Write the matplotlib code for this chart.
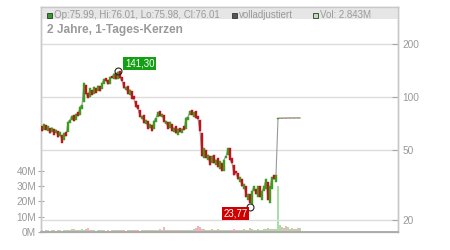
import matplotlib
matplotlib.use('Agg')
import matplotlib.pyplot as plt
from matplotlib.patches import Rectangle

plt.rcParams['font.family'] = ['Liberation Sans', 'DejaVu Sans']

# daily candles (thinned)
opens = [68, 65, 69, 64, 67, 63, 66, 62, 64, 60,
         61, 57, 63, 63, 71, 74, 79, 74, 82, 79,
         86, 94, 117, 106, 100, 110, 104, 113, 108, 115,
         111, 119, 129, 125, 119, 132, 127, 137, 127, 140,
         130, 122, 110, 115, 103, 108, 101, 95, 90, 84,
         75, 79, 70, 73, 67, 69, 66, 72, 77, 83,
         77, 79, 70, 72, 67, 70, 63, 68, 61, 67,
         62, 68, 66, 74, 79, 84, 77, 83, 78, 74,
         62, 45, 50, 44, 46, 42, 47, 41, 45, 39,
         42, 38, 45, 47, 51, 45, 41, 38, 37, 33,
         34, 30, 31, 26, 28, 24.5, 29, 30, 27, 31,
         26, 29, 30, 33, 25, 30, 36, 33,
         75.0, 75.5, 75.9, 75.6, 76.0, 75.7, 76.1, 75.8, 76.1, 75.9, 76.05, 75.99]
closes = [64, 70, 65, 68, 62, 67, 61, 65, 59, 63,
          55, 62, 60, 72, 74, 78, 73, 80, 78, 88,
          90, 120, 104, 99, 112, 103, 114, 106, 116, 108,
          120, 126, 124, 118, 130, 128, 136, 126, 139, 128,
          124, 112, 114, 104, 110, 98, 97, 88, 86, 77,
          78, 71, 74, 66, 70, 64, 73, 76, 82, 78,
          80, 72, 73, 66, 72, 64, 67, 62, 66, 63,
          66, 65, 76, 77, 83, 79, 82, 76, 75, 64,
          46, 51, 45, 47, 41, 46, 42, 44, 40, 43,
          38, 44, 46, 51, 44, 42, 36, 37, 34, 35,
          31, 32, 27, 28, 25, 29, 31, 28, 31, 27,
          29, 31, 34, 26, 31, 35, 34, 36,
          75.5, 75.8, 75.6, 75.9, 75.7, 76.0, 75.8, 76.1, 75.9, 76.0, 75.95, 76.01]
volumes = [1.2, 0.8, 1.0, 1.5, 0.9, 1.1, 1.3, 0.8, 1.0, 1.2,
           0.9, 1.4, 1.1, 1.6, 1.3, 1.8, 1.9, 1.2, 1.5, 1.0,
           1.9, 1.5, 2.2, 2.6, 1.3, 1.1, 1.4, 0.9, 1.2, 1.0,
           1.1, 1.3, 0.8, 1.0, 0.9, 1.2, 1.1, 1.5, 1.3, 1.0,
           1.4, 1.2, 0.9, 1.1, 1.3, 1.0, 1.5, 1.2, 1.1, 0.9,
           1.2, 1.4, 1.0, 1.3, 1.1, 1.6, 1.2, 1.0, 1.4, 1.7,
           1.5, 3.3, 1.2, 1.1, 1.0, 1.3, 1.2, 1.4, 1.1, 1.5,
           1.3, 1.2, 1.6, 1.4, 1.1, 1.3, 1.8, 2.5, 4.0, 3.0,
           2.0, 1.8, 1.5, 1.6, 1.3, 1.9, 1.4, 1.2, 2.2, 1.5,
           1.3, 1.6, 1.4, 1.2, 1.5, 1.3, 1.7, 1.4, 1.6, 1.3,
           1.5, 1.8, 1.4, 1.6, 2.5, 1.7, 1.5, 1.3, 1.9, 1.4,
           1.6, 1.8, 2.0, 2.8, 1.7, 1.9, 2.2, 2.0,
           30.0, 4.5, 3.5, 2.5, 4.0, 3.0, 2.2, 2.8, 2.0, 1.8, 2.5, 2.84]

year_pos = [33.5, 92.5, 142]
year_labels = ['2021', '2022', '2023']
price_ticks = [20, 50, 100, 200]
vol_ticks = [0, 10, 20, 30, 40]

high_idx, high_val = 38, 141.30
low_idx, low_val = 104, 23.77

GREEN = '#3c9e1e'
RED = '#c0141c'
VGREEN = '#a9dea9'
VRED = '#f2b3bb'
TXT = '#9a9a9a'

fig = plt.figure(figsize=(4.5, 2.5), dpi=100)
ax_v = fig.add_axes([41 / 450, 18 / 250, 357 / 450, 225 / 250])
ax = ax_v.twinx()

x = list(range(len(closes)))

# volume bars
vcols = [VGREEN if c >= o else VRED for o, c in zip(opens, closes)]
ax_v.bar(x, volumes, width=0.9, color=vcols, linewidth=0)
ax_v.set_ylim(0, 147.5)
ax_v.set_yticks(vol_ticks)
ax_v.set_yticklabels([f'{v}M' for v in vol_ticks])

# price: gray close line + candle bodies
ax.set_yscale('log')
ax.plot(x, closes, color='#9a9a9a', lw=0.8, zorder=2)
lo = [min(o, c) for o, c in zip(opens, closes)]
hi = [max(o, c) for o, c in zip(opens, closes)]
ccols = [GREEN if c >= o else RED for o, c in zip(opens, closes)]
ax.bar(x, [h - l for h, l in zip(hi, lo)], bottom=lo, width=0.9,
       color=ccols, edgecolor=ccols, linewidth=0.3, zorder=3)
ax.set_ylim(17.06, 325)
ax.set_xlim(-0.5, 178)
ax.set_yticks(price_ticks)
ax.set_yticklabels([str(p) for p in price_ticks])
ax.yaxis.set_minor_locator(matplotlib.ticker.NullLocator())
ax.set_xticks(year_pos)
ax.set_xticklabels(year_labels)

ax.grid(True, color='#dcdcdc', lw=1)
ax.set_axisbelow(True)

# header band
ax.add_patch(Rectangle((0, 1 - 12 / 225), 1, 12 / 225, transform=ax.transAxes,
                       facecolor='#e6e6e6', edgecolor='none', zorder=0))

for a in (ax, ax_v):
    for s in a.spines.values():
        s.set_color('#c8c8c8')
        s.set_linewidth(1)
ax.spines['bottom'].set_color('#a8a8a8')
ax.spines['bottom'].set_linewidth(1.3)

ax.tick_params(axis='y', direction='in', length=4, color='#aaaaaa', labelcolor=TXT,
               labelsize=7.3, pad=3)
ax_v.tick_params(axis='y', direction='inout', length=5, color='#aaaaaa', labelcolor=TXT,
                 labelsize=7.3, pad=1)
ax.tick_params(axis='x', direction='out', length=2, color='#aaaaaa', labelcolor=TXT,
               labelsize=7.3, pad=1)
ax_v.tick_params(axis='x', length=0, labelbottom=False)

# high / low markers
ax.plot([high_idx], [high_val], 'o', mfc='none', mec='#222222', ms=5, mew=0.8, zorder=5)
ax.plot([low_idx], [low_val], 'o', mfc='none', mec='#222222', ms=5, mew=0.8, zorder=5)
ax.annotate(f'{high_val:.2f}'.replace('.', ','), (high_idx, high_val), xytext=(5, 5),
            textcoords='offset points', ha='left', va='center', color='white', fontsize=7,
            bbox=dict(boxstyle='square,pad=0.15', fc='#14a014', ec='none'), zorder=6)
ax.annotate(f'{low_val:.2f}'.replace('.', ','), (low_idx, low_val), xytext=(-2, -5),
            textcoords='offset points', ha='right', va='center', color='white', fontsize=7,
            bbox=dict(boxstyle='square,pad=0.15', fc='#d00000', ec='none'), zorder=6)

# header legend and title
def px(xp, yp):
    return xp / 450, 1 - yp / 250

legend = [(46.5, '#2f9e2f', 'Op:75.99, Hi:76.01, Lo:75.98, Cl:76.01'),
          (232, '#555555', 'volladjustiert'),
          (312.5, '#b4e4b4', 'Vol: 2.843M')]
for xs, col, label in legend:
    fig.patches.append(Rectangle(px(xs, 18), 5 / 450, 5 / 250, transform=fig.transFigure,
                                 facecolor=col, edgecolor='#333333', lw=0.6))
    fig.text(*px(xs + 7, 15.5), label, fontsize=7.0, color=TXT, va='center', ha='left')

fig.text(*px(47, 30), '2 Jahre, 1-Tages-Kerzen', fontsize=8.6, fontweight='bold',
         color=TXT, va='center', ha='left')

fig.savefig('out.png', dpi=100)
